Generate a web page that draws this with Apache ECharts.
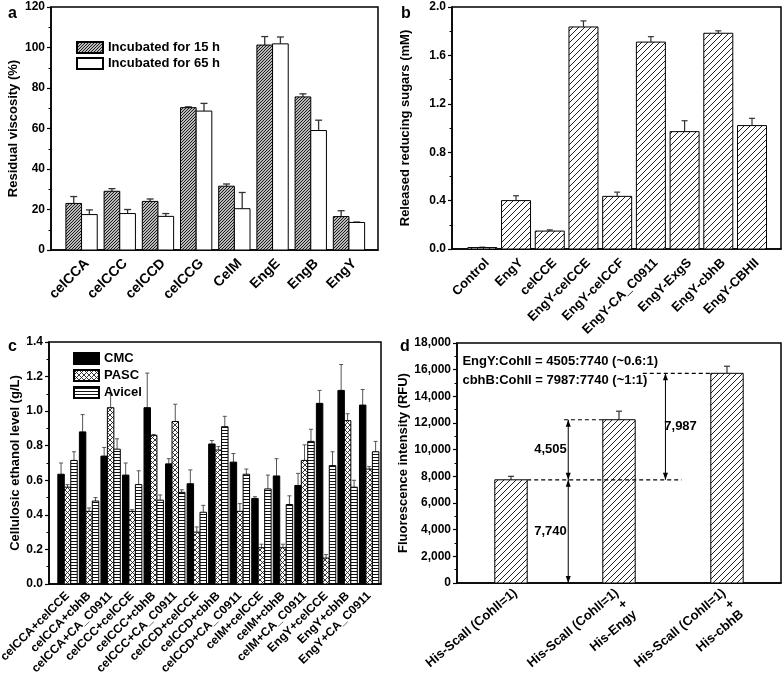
<!DOCTYPE html>
<html><head><meta charset="utf-8">
<script src="https://cdn.jsdelivr.net/npm/echarts@6/dist/echarts.min.js"></script>
<style>html,body{margin:0;padding:0;background:#fff}#c{width:784px;height:678px}</style>
</head><body><div id="c"></div>
<script>
// ---------- Panel a ----------
const catsA = ['celCCA','celCCC','celCCD','celCCG','CelM','EngE','EngB','EngY'];
const a15 = [23, 29, 24, 70.3, 31.5, 101.2, 75.6, 16.5];
const a15Err = [3.4, 1.3, 1.2, 0.4, 1.1, 4.2, 1.5, 2.9];
const a65 = [17.5, 18, 16.6, 68.6, 20.4, 101.8, 59, 13.6];
const a65Err = [2.3, 2.0, 1.4, 3.8, 8.0, 3.4, 5.1, 0.2];
// ---------- Panel b ----------
const catsB = ['Control','EngY','celCCE','EngY-celCCE','EngY-celCCF','EngY-CA_C0911','EngY-ExgS','EngY-cbhB','EngY-CBHII'];
const bVals = [0.012, 0.40, 0.148, 1.835, 0.435, 1.71, 0.97, 1.783, 1.02];
const bErr = [0.003, 0.04, 0.01, 0.05, 0.035, 0.045, 0.09, 0.02, 0.06];
// ---------- Panel c ----------
const catsC = ['celCCA+celCCE','celCCA+cbhB','celCCA+CA_C0911','celCCC+celCCE','celCCC+cbhB','celCCC+CA_C0911','celCCD+celCCE','celCCD+cbhB','celCCD+CA_C0911','celM+celCCE','celM+cbhB','celM+CA_C0911','EngY+celCCE','EngY+cbhB','EngY+CA_C0911'];
const cCMC = [0.635, 0.88, 0.74, 0.63, 1.02, 0.695, 0.58, 0.81, 0.705, 0.495, 0.625, 0.57, 1.045, 1.12, 1.035];
const cCMCErr = [0.065, 0.10, 0.05, 0.07, 0.20, 0.03, 0.08, 0.02, 0.05, 0.01, 0.10, 0.07, 0.075, 0.15, 0.09];
const cPASC = [0.56, 0.42, 1.02, 0.42, 0.86, 0.94, 0.30, 0.775, 0.42, 0.21, 0.21, 0.715, 0.15, 0.945, 0.665];
const cPASCErr = [0.015, 0.02, 0.08, 0.01, 0.005, 0.10, 0.03, 0.02, 0.045, 0.02, 0.02, 0.09, 0.02, 0.04, 0.015];
const cAvicel = [0.715, 0.48, 0.78, 0.575, 0.485, 0.53, 0.415, 0.91, 0.635, 0.55, 0.46, 0.825, 0.685, 0.56, 0.765];
const cAvicelErr = [0.05, 0.02, 0.06, 0.08, 0.03, 0.015, 0.04, 0.06, 0.03, 0.08, 0.05, 0.07, 0.08, 0.04, 0.06];
// ---------- Panel d ----------
const catsD = ['His-ScaII (CohII=1)', 'His-ScaII (CohII=1)\n+\nHis-Engy', 'His-ScaII (CohII=1)\n+\nHis-cbhB'];
const dVals = [7740, 12245, 15727];
const dErr = [260, 640, 530];
const dRatioText = ['EngY:CohII = 4505:7740 (~0.6:1)', 'cbhB:CohII = 7987:7740 (~1:1)'];

const FONT = '"Liberation Sans", Arial, Helvetica, sans-serif';

function makePattern(size, draw) {
  const cv = document.createElement('canvas');
  cv.width = size; cv.height = size;
  const ctx = cv.getContext('2d');
  ctx.fillStyle = '#fff'; ctx.fillRect(0, 0, size, size);
  draw(ctx, size);
  return { image: cv, repeat: 'repeat' };
}
function diagLines(color, lw) {
  return (ctx, s) => {
    ctx.strokeStyle = color; ctx.lineWidth = lw; ctx.beginPath();
    ctx.moveTo(0, s); ctx.lineTo(s, 0);
    ctx.moveTo(-2, 2); ctx.lineTo(2, -2);
    ctx.moveTo(s - 2, s + 2); ctx.lineTo(s + 2, s - 2);
    ctx.stroke();
  };
}
function crossLines(color, lw) {
  return (ctx, s) => {
    ctx.strokeStyle = color; ctx.lineWidth = lw; ctx.beginPath();
    ctx.moveTo(0, s); ctx.lineTo(s, 0);
    ctx.moveTo(-2, 2); ctx.lineTo(2, -2);
    ctx.moveTo(s - 2, s + 2); ctx.lineTo(s + 2, s - 2);
    ctx.moveTo(0, 0); ctx.lineTo(s, s);
    ctx.moveTo(-2, s - 2); ctx.lineTo(2, s + 2);
    ctx.moveTo(s - 2, -2); ctx.lineTo(s + 2, 2);
    ctx.stroke();
  };
}
function horizLines(color, lw) {
  return (ctx, s) => {
    ctx.strokeStyle = color; ctx.lineWidth = lw; ctx.beginPath();
    ctx.moveTo(0, s / 2); ctx.lineTo(s, s / 2);
    ctx.stroke();
  };
}
const patA = makePattern(3, diagLines('#111', 1.1));
const patB = makePattern(6, diagLines('#222', 1));
const patPASC = makePattern(5, crossLines('#222', 0.9));
const patAvicel = makePattern(3, horizLines('#111', 1));

function barSeries(name, axisIdx, vals, errs, offset, width, fill, errColor, cap, errW) {
  return {
    type: 'custom', name, xAxisIndex: axisIdx, yAxisIndex: axisIdx,
    data: vals.map((v, i) => [i, v, errs[i]]),
    encode: { x: 0, y: 1 },
    itemStyle: { color: fill, borderColor: '#000', borderWidth: 1 },
    renderItem: (params, api) => {
      const i = api.value(0), v = api.value(1), e = api.value(2);
      const p0 = api.coord([i + offset - width / 2, 0]);
      const p1 = api.coord([i + offset + width / 2, v]);
      const t = api.coord([i + offset, v + e]);
      const cx = (p0[0] + p1[0]) / 2;
      return { type: 'group', children: [
        { type: 'line', shape: { x1: cx, y1: p1[1], x2: cx, y2: t[1] }, style: { stroke: errColor, lineWidth: errW } },
        { type: 'line', shape: { x1: cx - cap, y1: t[1], x2: cx + cap, y2: t[1] }, style: { stroke: errColor, lineWidth: errW } },
        { type: 'rect', shape: { x: p0[0], y: p1[1], width: p1[0] - p0[0], height: p0[1] - p1[1] }, style: { fill: fill, stroke: '#000', lineWidth: 1 } }
      ] };
    }
  };
}

function yAx(gi, max, interval, fmt, name, nameGap) {
  return {
    type: 'value', gridIndex: gi, min: 0, max, interval, name, nameLocation: 'middle', nameGap,
    nameTextStyle: { fontWeight: 'bold', fontSize: 13, color: '#000', fontFamily: FONT },
    axisLine: { show: true, onZero: false, lineStyle: { color: '#000', width: 1.5 } },
    axisTick: { show: true, length: 4, lineStyle: { color: '#000', width: 1.2 } },
    minorTick: { show: true, splitNumber: 2, length: 2.5, lineStyle: { color: '#000', width: 1 } },
    splitLine: { show: false },
    axisLabel: { fontWeight: 'bold', fontSize: 12, color: '#000', margin: 6, fontFamily: FONT, formatter: fmt }
  };
}
// labelShift: small per-label anchor nudge (axis units) to mimic the original label placement
function xAx(gi, min, max, cats, fontSize, margin, vAlign, rotate, labelShift) {
  const pos = cats.map((c, i) => i + (labelShift ? labelShift[i] : 0));
  return {
    type: 'value', gridIndex: gi, min, max,
    splitLine: { show: false },
    axisLine: { show: true, onZero: false, lineStyle: { color: '#000', width: 1.5 } },
    axisTick: { show: false }, minorTick: { show: false },
    axisLabel: {
      customValues: pos,
      formatter: v => cats[Math.round(v)],
      rotate, align: 'right', verticalAlign: vAlign, margin,
      fontWeight: 'bold', fontSize, color: '#000', fontFamily: FONT, lineHeight: fontSize + 1
    }
  };
}
const gridStyle = { show: true, borderColor: '#000', borderWidth: 1.5, backgroundColor: 'transparent', containLabel: false, outerBoundsMode: 'none' };

// annotation layer for panel d (positions derived from the data values)
const annotD = {
  type: 'custom', xAxisIndex: 3, yAxisIndex: 3, silent: true, z: 5,
  data: [[0, 0]],
  renderItem: (params, api) => {
    const P = (x, y) => api.coord([x, y]);
    const ch = [];
    const dash = (x1, x2, y) => {
      const a = P(x1, y), b = P(x2, y);
      ch.push({ type: 'line', shape: { x1: a[0], y1: a[1], x2: b[0], y2: b[1] }, style: { stroke: '#000', lineWidth: 1.2, lineDash: [4, 3] } });
    };
    const arrow = (x, y1, y2) => {
      const a = P(x, y1), b = P(x, y2);
      ch.push({ type: 'line', shape: { x1: a[0], y1: a[1], x2: b[0], y2: b[1] }, style: { stroke: '#000', lineWidth: 1 } });
      ch.push({ type: 'polygon', shape: { points: [[a[0], a[1]], [a[0] - 2.5, a[1] - 7], [a[0] + 2.5, a[1] - 7]] }, style: { fill: '#000' } });
      ch.push({ type: 'polygon', shape: { points: [[b[0], b[1]], [b[0] - 2.5, b[1] + 7], [b[0] + 2.5, b[1] + 7]] }, style: { fill: '#000' } });
    };
    const txt = (x, y, s, align) => {
      const p = P(x, y);
      ch.push({ type: 'text', x: p[0], y: p[1], style: { text: s, fill: '#000', font: 'bold 13px ' + FONT, textAlign: align, textVerticalAlign: 'middle' } });
    };
    const base = dVals[0];
    dash(0.15, 1.58, base);
    dash(0.49, 0.85, dVals[1]);
    dash(1.22, 1.85, dVals[2]);
    arrow(0.53, 0, base);
    arrow(0.53, base, dVals[1]);
    arrow(1.43, base, dVals[2]);
    txt(0.365, base / 2, base.toLocaleString('en-US'), 'center');
    txt(0.365, (base + dVals[1]) / 2, (dVals[1] - base).toLocaleString('en-US'), 'center');
    txt(1.57, (base + dVals[2]) / 2, (dVals[2] - base).toLocaleString('en-US'), 'center');
    txt(-0.45, 16650, dRatioText[0], 'left');
    txt(-0.45, 15200, dRatioText[1], 'left');
    return { type: 'group', children: ch };
  }
};

const chart = echarts.init(document.getElementById('c'));
chart.setOption({
  animation: false,
  backgroundColor: '#fff',
  textStyle: { fontFamily: FONT },
  title: [
    { text: 'a', left: 3, top: 1, textStyle: { fontSize: 16, fontWeight: 'bold', color: '#000', fontFamily: FONT } },
    { text: 'b', left: 396, top: 1, textStyle: { fontSize: 16, fontWeight: 'bold', color: '#000', fontFamily: FONT } },
    { text: 'c', left: 3, top: 334, textStyle: { fontSize: 16, fontWeight: 'bold', color: '#000', fontFamily: FONT } },
    { text: 'd', left: 395, top: 334, textStyle: { fontSize: 16, fontWeight: 'bold', color: '#000', fontFamily: FONT } }
  ],
  legend: [
    { data: ['Incubated for 15 h', 'Incubated for 65 h'], left: 71, top: 36, orient: 'vertical', itemWidth: 26, itemHeight: 11, itemGap: 3, icon: 'rect', selectedMode: false,
      textStyle: { fontWeight: 'bold', fontSize: 13, color: '#000', fontFamily: FONT } },
    { data: ['CMC', 'PASC', 'Avicel'], left: 68, top: 347, orient: 'vertical', itemWidth: 25, itemHeight: 11, itemGap: 4, icon: 'rect', selectedMode: false,
      textStyle: { fontWeight: 'bold', fontSize: 13, color: '#000', fontFamily: FONT } }
  ],
  grid: [
    Object.assign({ left: 51, top: 7, width: 327, height: 243 }, gridStyle),
    Object.assign({ left: 452, top: 7, width: 329, height: 242 }, gridStyle),
    Object.assign({ left: 49, top: 342, width: 332, height: 242 }, gridStyle),
    Object.assign({ left: 457, top: 343, width: 324, height: 240 }, gridStyle)
  ],
  xAxis: [
    xAx(0, -0.8, 7.76, catsA, 14, 6, 'top', 45),
    xAx(1, -0.9, 8.86, catsB, 13, 7, 'top', 45),
    xAx(2, -0.86, 14.55, catsC, 12, 10, 'middle', 45),
    xAx(3, -0.5, 2.5, catsD, 13, 3, 'top', 40, [0, -0.06, -0.07])
  ],
  yAxis: [
    yAx(0, 120, 20, v => String(v), 'Residual viscosity (%)', 31),
    yAx(1, 2.0, 0.4, v => v.toFixed(1), 'Released reducing sugars (mM)', 40),
    yAx(2, 1.4, 0.2, v => v.toFixed(1), 'Cellulosic ethanol level (g/L)', 27),
    yAx(3, 18000, 2000, v => v.toLocaleString('en-US'), 'Fluorescence intensity (RFU)', 45)
  ],
  series: [
    barSeries('Incubated for 15 h', 0, a15, a15Err, -0.205, 0.41, patA, '#333', 3.5, 1.3),
    barSeries('Incubated for 65 h', 0, a65, a65Err, 0.205, 0.41, '#fff', '#333', 3.5, 1.3),
    barSeries('b', 1, bVals, bErr, 0, 0.86, patB, '#333', 3, 1.2),
    barSeries('CMC', 2, cCMC, cCMCErr, -0.3, 0.3, '#000', '#555', 2, 1),
    barSeries('PASC', 2, cPASC, cPASCErr, 0, 0.3, patPASC, '#555', 2, 1),
    barSeries('Avicel', 2, cAvicel, cAvicelErr, 0.3, 0.3, patAvicel, '#555', 2, 1),
    barSeries('d', 3, dVals, dErr, 0, 0.3, patB, '#333', 3, 1.2),
    annotD
  ]
});
</script></body></html>
